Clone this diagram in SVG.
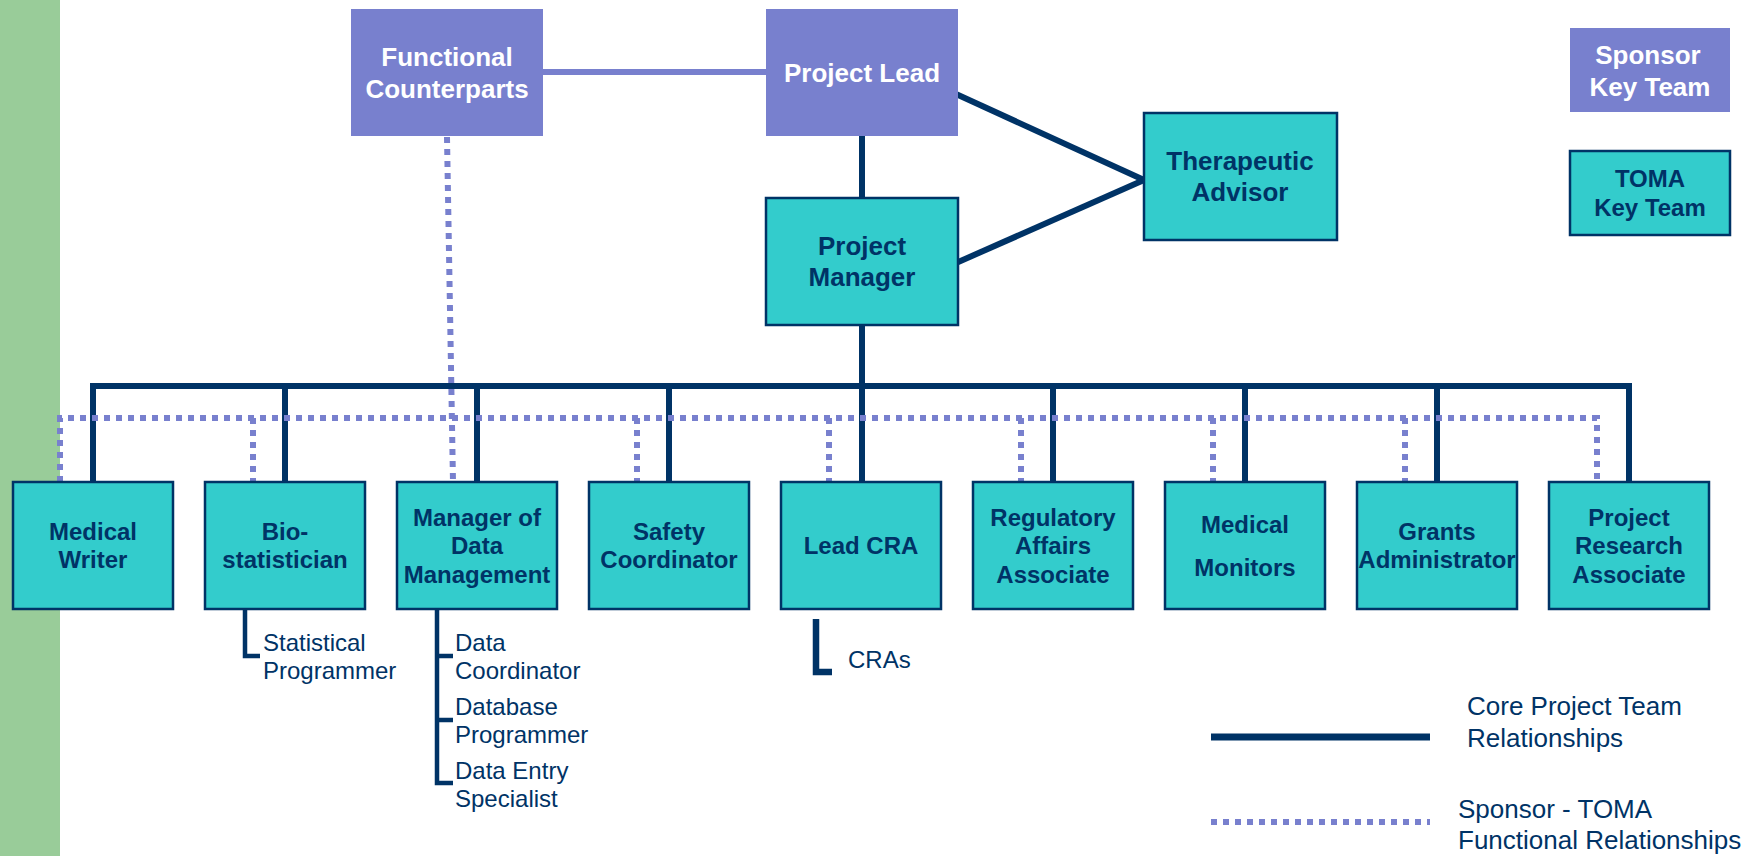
<svg xmlns="http://www.w3.org/2000/svg" width="1757" height="856" viewBox="0 0 1757 856">
<style>
.sp{fill:#7880CE}
.tm{fill:#33CCCC;stroke:#003366;stroke-width:2.5}
.wt{fill:#FFFFFF;font-family:"Liberation Sans",Arial,sans-serif;font-weight:bold;font-size:26px;text-anchor:middle}
.nt{fill:#003366;font-family:"Liberation Sans",Arial,sans-serif;font-weight:bold;font-size:26px;text-anchor:middle}
.bt{fill:#003366;font-family:"Liberation Sans",Arial,sans-serif;font-weight:bold;font-size:24px;text-anchor:middle}
.st{fill:#003366;font-family:"Liberation Sans",Arial,sans-serif;font-size:24px}
.lg{fill:#003366;font-family:"Liberation Sans",Arial,sans-serif;font-size:26px}
.core{fill:none;stroke:#003366;stroke-width:6}
.sub{fill:none;stroke:#003366;stroke-width:4.5}
.fun{fill:none;stroke:#7880CE;stroke-width:6;stroke-dasharray:6 6}
</style>
<rect x="0" y="0" width="60" height="856" fill="#99CC99"/>

<g id="connectors">
  <line x1="543" y1="72" x2="766" y2="72" stroke="#7880CE" stroke-width="6"/>
  <line class="core" x1="862" y1="136" x2="862" y2="198"/>
  <line class="core" x1="956" y1="94" x2="1144" y2="180"/>
  <line class="core" x1="956" y1="263" x2="1144" y2="180"/>
  <line class="core" x1="862" y1="325" x2="862" y2="482"/>
  <path class="core" d="M93,482 V386 H1629 V482"/>
  <path class="core" d="M285,386 V482 M477,386 V482 M669,386 V482 M1053,386 V482 M1245,386 V482 M1437,386 V482"/>
  <path class="fun" d="M60,482 V418 H1597 V482"/>
  <path class="fun" d="M253,418 V482 M637,418 V482 M829,418 V482 M1021,418 V482 M1213,418 V482 M1405,418 V482"/>
  <line class="fun" x1="447" y1="137" x2="453" y2="482"/>
  <path class="sub" d="M245,609 V656 H260"/>
  <path class="sub" d="M437,609 V783 H453 M437,656 H453 M437,720 H453"/>
  <path fill="none" stroke="#003366" stroke-width="6.5" d="M816,619 V672 H832"/>
</g>

<g id="functional-counterparts">
  <rect class="sp" x="351" y="9" width="192" height="127"/>
  <text class="wt" x="447" y="66">Functional</text>
  <text class="wt" x="447" y="98">Counterparts</text>
</g>
<g id="project-lead">
  <rect class="sp" x="766" y="9" width="192" height="127"/>
  <text class="wt" x="862" y="82">Project Lead</text>
</g>
<g id="project-manager">
  <rect class="tm" x="766" y="198" width="192" height="127"/>
  <text class="nt" x="862" y="255">Project</text>
  <text class="nt" x="862" y="286">Manager</text>
</g>
<g id="therapeutic-advisor">
  <rect class="tm" x="1144" y="113" width="193" height="127"/>
  <text class="nt" x="1240" y="170">Therapeutic</text>
  <text class="nt" x="1240" y="201">Advisor</text>
</g>
<g id="legend-sponsor">
  <rect class="sp" x="1570" y="28" width="160" height="84"/>
  <text class="wt" x="1648" y="64">Sponsor</text>
  <text class="wt" x="1650" y="96">Key Team</text>
</g>
<g id="legend-toma">
  <rect class="tm" x="1570" y="151" width="160" height="84"/>
  <text class="bt" x="1650" y="187">TOMA</text>
  <text class="bt" x="1650" y="216">Key Team</text>
</g>

<g id="medical-writer">
  <rect class="tm" x="13" y="482" width="160" height="127"/>
  <text class="bt" x="93" y="540">Medical</text>
  <text class="bt" x="93" y="568">Writer</text>
</g>
<g id="biostatistician">
  <rect class="tm" x="205" y="482" width="160" height="127"/>
  <text class="bt" x="285" y="540">Bio-</text>
  <text class="bt" x="285" y="568">statistician</text>
</g>
<g id="manager-data-management">
  <rect class="tm" x="397" y="482" width="160" height="127"/>
  <text class="bt" x="477" y="526">Manager of</text>
  <text class="bt" x="477" y="554">Data</text>
  <text class="bt" x="477" y="583">Management</text>
</g>
<g id="safety-coordinator">
  <rect class="tm" x="589" y="482" width="160" height="127"/>
  <text class="bt" x="669" y="540">Safety</text>
  <text class="bt" x="669" y="568">Coordinator</text>
</g>
<g id="lead-cra">
  <rect class="tm" x="781" y="482" width="160" height="127"/>
  <text class="bt" x="861" y="554">Lead CRA</text>
</g>
<g id="regulatory-affairs">
  <rect class="tm" x="973" y="482" width="160" height="127"/>
  <text class="bt" x="1053" y="526">Regulatory</text>
  <text class="bt" x="1053" y="554">Affairs</text>
  <text class="bt" x="1053" y="583">Associate</text>
</g>
<g id="medical-monitors">
  <rect class="tm" x="1165" y="482" width="160" height="127"/>
  <text class="bt" x="1245" y="533">Medical</text>
  <text class="bt" x="1245" y="576">Monitors</text>
</g>
<g id="grants-administrator">
  <rect class="tm" x="1357" y="482" width="160" height="127"/>
  <text class="bt" x="1437" y="540">Grants</text>
  <text class="bt" x="1437" y="568">Administrator</text>
</g>
<g id="project-research-associate">
  <rect class="tm" x="1549" y="482" width="160" height="127"/>
  <text class="bt" x="1629" y="526">Project</text>
  <text class="bt" x="1629" y="554">Research</text>
  <text class="bt" x="1629" y="583">Associate</text>
</g>

<g id="sub-statistical-programmer">
  <text class="st" x="263" y="651">Statistical</text>
  <text class="st" x="263" y="679">Programmer</text>
</g>
<g id="sub-data-coordinator">
  <text class="st" x="455" y="651">Data</text>
  <text class="st" x="455" y="679">Coordinator</text>
</g>
<g id="sub-database-programmer">
  <text class="st" x="455" y="715">Database</text>
  <text class="st" x="455" y="743">Programmer</text>
</g>
<g id="sub-data-entry">
  <text class="st" x="455" y="779">Data Entry</text>
  <text class="st" x="455" y="807">Specialist</text>
</g>
<g id="sub-cras">
  <text class="st" x="848" y="668">CRAs</text>
</g>

<g id="legend-lines">
  <line x1="1211" y1="737" x2="1430" y2="737" stroke="#003366" stroke-width="7"/>
  <text class="lg" x="1467" y="715">Core Project Team</text>
  <text class="lg" x="1467" y="747">Relationships</text>
  <line class="fun" x1="1211" y1="822" x2="1430" y2="822"/>
  <text class="lg" x="1458" y="818">Sponsor - TOMA</text>
  <text class="lg" x="1458" y="849">Functional Relationships</text>
</g>
</svg>
